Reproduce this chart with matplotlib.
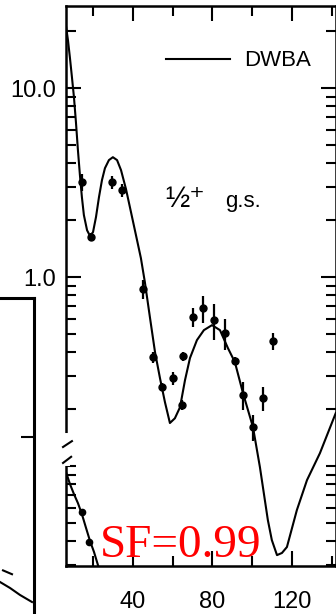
import matplotlib
matplotlib.use("Agg")
import matplotlib.pyplot as plt
from matplotlib.ticker import FixedLocator, LogLocator, MultipleLocator, NullFormatter, FormatStrFormatter

plt.rcParams['font.family'] = ['Liberation Sans', 'DejaVu Sans']

# DWBA curve, 1/2+ ground state (angle in deg, cross section)
theta_dwba = [6.3, 7.3, 8.3, 9.3, 10.3, 11.3, 12.3, 13.3, 14.3, 15.3,
              16.9, 18.4, 19.9, 21.4, 22.9, 24.4, 25.9, 27.9, 29.9, 32.0,
              34.0, 36.5, 39.0, 41.5, 44.0, 46.0, 48.6, 51.1, 53.6, 56.1,
              58.6, 61.1, 63.7, 66.2, 68.7, 72.2, 75.7, 79.8, 83.8, 87.8,
              91.3, 95.4, 100.4, 103.9, 107.9, 109.9, 112.5, 115.0, 117.5, 122.5,
              127.6, 134.1, 142.1]
xs_dwba = [21.3, 17.9, 14.4, 11.4, 8.96, 6.61, 4.70, 3.47, 2.65, 2.13,
           1.77, 1.65, 1.73, 2.08, 2.65, 3.26, 3.77, 4.16, 4.31, 4.16,
           3.68, 2.92, 2.21, 1.67, 1.26, 0.94, 0.607, 0.401, 0.292, 0.218,
           0.169, 0.179, 0.205, 0.285, 0.373, 0.464, 0.524, 0.557, 0.524, 0.421,
           0.355, 0.243, 0.161, 0.0988, 0.0518, 0.0406, 0.0338, 0.0347, 0.0373, 0.0585,
           0.0843, 0.117, 0.191]

# measured points
theta_exp = [14.3, 18.9, 29.4, 34.5, 45.0, 50.1, 54.6, 60.1, 65.2, 64.7,
             70.2, 75.2, 80.8, 86.3, 91.3, 95.3, 100.4, 105.4, 110.4]
xs_exp = [3.18, 1.63, 3.18, 2.89, 0.864, 0.377, 0.262, 0.292, 0.382, 0.210,
          0.614, 0.685, 0.592, 0.506, 0.360, 0.238, 0.161, 0.229, 0.459]
xs_err = [0.32, 0.08, 0.24, 0.22, 0.10, 0.025, 0.013, 0.022, 0.02, 0.013,
          0.07, 0.11, 0.13, 0.094, 0.018, 0.041, 0.025, 0.033, 0.047]

# next state, below the axis break
theta_low = [6.3, 8.3, 10.3, 12.3, 14.3, 16.4, 18.4, 20.4, 22.4, 23.4]
xs_low = [0.0929, 0.0803, 0.0711, 0.0637, 0.0557, 0.0470, 0.0401, 0.0351, 0.0299, 0.0275]
theta_low_exp = [14.3, 17.9]
xs_low_exp = [0.0571, 0.0396]

# neighbouring panel (only its corner shows)
nb_x = [66, 76, 86, 98]
nb_y = [0.171, 0.159, 0.146, 0.134]
nb_x2 = [69, 78]
nb_y2 = [0.197, 0.188]

fig = plt.figure(figsize=(3.36, 6.14), dpi=100)

ax = fig.add_axes([66/336, 48/614, 270/336, 560/614])
ax.plot(theta_dwba, xs_dwba, color='black', lw=1.5, label='DWBA')
ax.errorbar(theta_exp, xs_exp, yerr=xs_err, fmt='o', color='black',
            ms=5, elinewidth=1.6, capsize=0)
ax.plot(theta_low, xs_low, color='black', lw=1.5)
ax.plot(theta_low_exp, xs_low_exp, 'o', color='black', ms=4.5)

ax.set_yscale('log')
ax.set_xlim(6.3, 142.2)
ax.set_ylim(0.0296, 27.2)

ax.xaxis.set_major_locator(FixedLocator([40, 80, 120]))
ax.xaxis.set_minor_locator(MultipleLocator(20))
ax.yaxis.set_major_locator(FixedLocator([1.0, 10.0]))
ax.yaxis.set_major_formatter(FormatStrFormatter('%.1f'))
ax.yaxis.set_minor_locator(LogLocator(base=10, subs=range(1, 10)))
ax.yaxis.set_minor_formatter(NullFormatter())

ax.tick_params(which='both', direction='in', top=True, right=True, width=1.5, labelsize=17)
ax.tick_params(which='major', length=11)
ax.tick_params(which='minor', length=7)
ax.tick_params(axis='x', pad=18)
ax.tick_params(axis='y', pad=7)
for s in ax.spines.values():
    s.set_linewidth(1.8)

# axis break on the left spine
ax.plot([0, 0], [0.186, 0.232], color='white', lw=5, transform=ax.transAxes, clip_on=False, zorder=5)
ax.plot([-0.011, 0.022], [0.2125, 0.223], color='black', lw=1.5, transform=ax.transAxes, clip_on=False, zorder=6)
ax.plot([-0.011, 0.019], [0.184, 0.195], color='black', lw=1.5, transform=ax.transAxes, clip_on=False, zorder=6)

ax.legend(loc='center left', bbox_to_anchor=(166/336, 1 - 61/614), bbox_transform=fig.transFigure,
          frameon=False, handlelength=2.9, handletextpad=0.6, borderpad=0, borderaxespad=0,
          prop={'size': 16})

ax.text(0.367, 0.641, '½⁺', fontsize=21, transform=ax.transAxes, va='baseline')
ax.text(0.589, 0.641, 'g.s.', fontsize=16, transform=ax.transAxes, va='baseline')

fig.text(100/336, 1 - 557/614, 'SF=0.99', color='red', fontsize=34,
         family='Liberation Serif', va='baseline')

# corner of the panel to the left
ax2 = fig.add_axes([-66/336, -0.1, 100/336, 1 - 298/614 + 0.1])
ax2.plot(nb_x, nb_y, color='black', lw=1.5)
ax2.plot(nb_x2, nb_y2, color='black', lw=1.5)
ax2.set_yscale('log')
ax2.set_xlim(0, 100)
ax2.set_ylim(0.0548, 5.44)
ax2.spines['left'].set_visible(False)
ax2.spines['bottom'].set_visible(False)
for s in ax2.spines.values():
    s.set_linewidth(2.2)
ax2.set_xticks([])
ax2.yaxis.tick_right()
ax2.yaxis.set_major_locator(FixedLocator([1.0]))
ax2.yaxis.set_minor_locator(FixedLocator([]))
ax2.tick_params(axis='y', direction='in', length=9.5, width=1.5, labelright=False)

fig.savefig('out.png', dpi=100)
